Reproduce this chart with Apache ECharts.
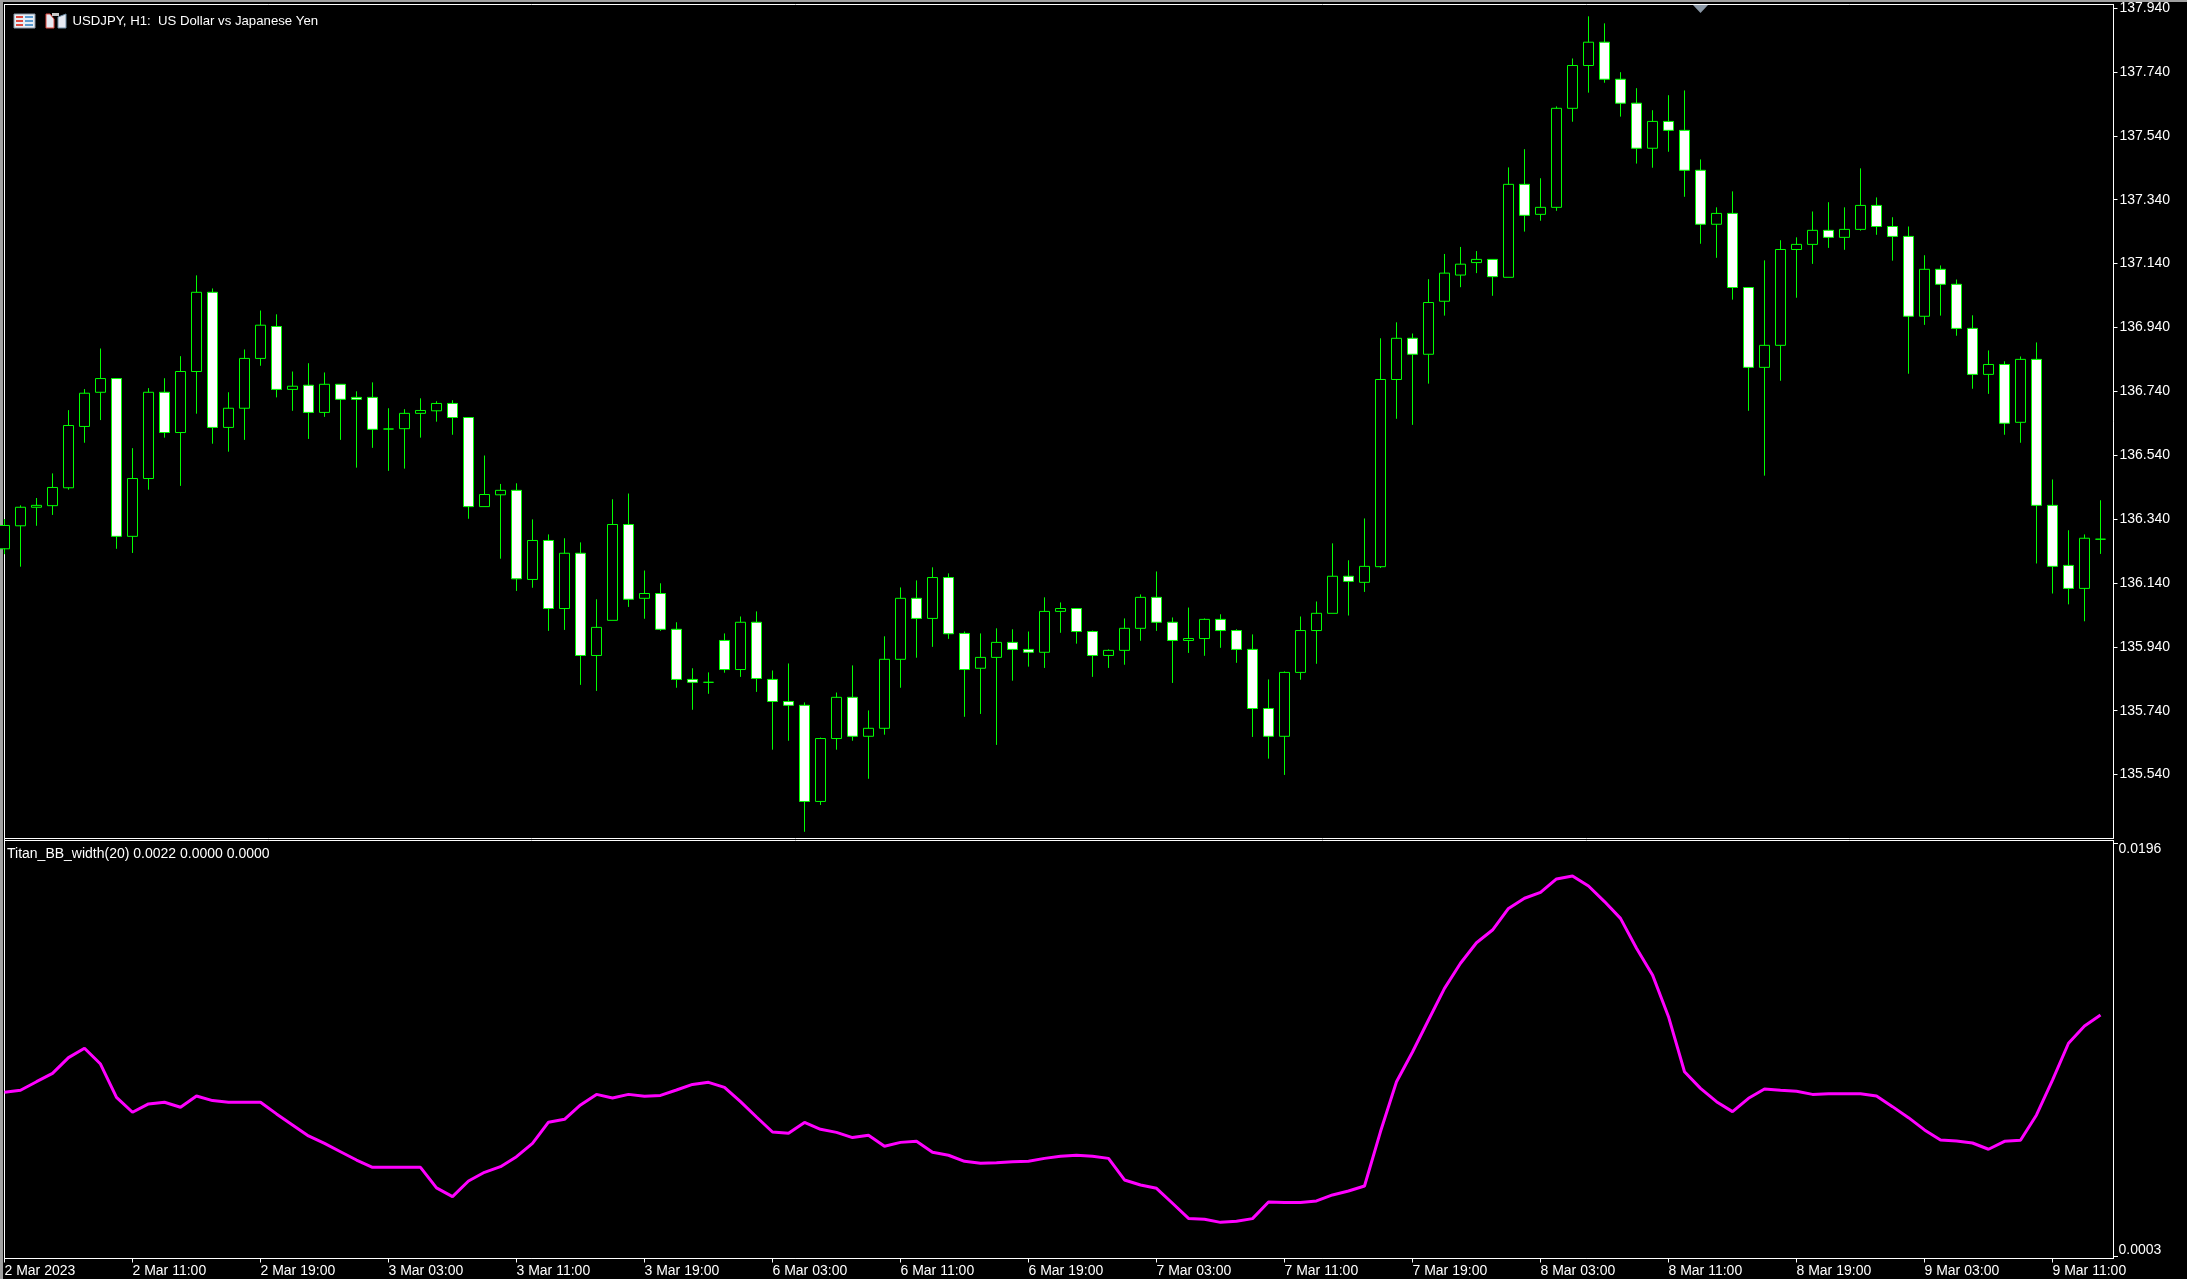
<!DOCTYPE html>
<html>
<head>
<meta charset="utf-8">
<style>
    html, body { margin: 0; padding: 0; background: #000; }
    #main { width: 2187px; height: 1279px; }
</style>
<script src="https://cdn.jsdelivr.net/npm/echarts@6/dist/echarts.min.js"></script>
</head>
<body>
<div id="main"></div>
<script>
// USDJPY H1 bars
var opens = [
    136.247,136.319,136.377,136.382,136.438,136.630,136.737,136.780,136.286,136.467,136.737,136.611,
    136.802,137.050,136.627,136.687,136.843,136.943,136.746,136.759,136.674,136.762,136.721,136.721,
    136.622,136.623,136.671,136.679,136.702,136.658,136.379,136.416,136.430,136.151,136.273,136.060,
    136.233,135.913,136.023,136.323,136.092,136.107,135.995,135.838,135.829,135.960,135.869,136.017,
    135.838,135.769,135.757,135.456,135.653,135.782,135.660,135.685,135.901,136.092,136.029,136.157,
    135.982,135.873,135.907,135.954,135.932,135.923,136.051,136.060,135.988,135.913,135.929,135.998,
    136.095,136.017,135.960,135.966,136.026,135.991,135.932,135.747,135.660,135.860,135.991,136.045,
    136.161,136.142,136.191,136.777,136.906,136.856,137.022,137.104,137.143,137.153,137.097,137.388,
    137.294,137.316,137.626,137.760,137.833,137.717,137.642,137.501,137.585,137.557,137.432,137.263,
    137.297,137.065,136.815,136.884,137.184,137.200,137.244,137.222,137.247,137.322,137.256,137.225,
    136.975,137.122,137.075,136.937,136.793,136.824,136.643,136.840,136.383,136.195,136.123,136.277
];
var closes = [
    136.320,136.377,136.383,136.439,136.633,136.734,136.780,136.286,136.467,136.737,136.611,136.802,
    137.050,136.627,136.687,136.843,136.947,136.746,136.756,136.674,136.762,136.715,136.715,136.621,
    136.622,136.671,136.680,136.702,136.658,136.379,136.417,136.430,136.153,136.273,136.060,136.233,
    135.913,136.001,136.323,136.089,136.107,135.995,135.838,135.829,135.829,135.869,136.017,135.841,
    135.769,135.757,135.456,135.653,135.782,135.660,135.685,135.901,136.092,136.029,136.157,135.981,
    135.869,135.907,135.954,135.932,135.923,136.051,136.060,135.988,135.913,135.929,135.998,136.095,
    136.017,135.960,135.966,136.026,135.991,135.932,135.747,135.660,135.860,135.991,136.045,136.161,
    136.145,136.192,136.777,136.906,136.856,137.018,137.110,137.138,137.153,137.099,137.388,137.291,
    137.316,137.626,137.760,137.833,137.717,137.642,137.501,137.585,137.557,137.432,137.263,137.297,
    137.065,136.815,136.884,137.184,137.200,137.244,137.222,137.247,137.322,137.256,137.225,136.975,
    137.122,137.075,136.937,136.793,136.824,136.640,136.840,136.383,136.192,136.123,136.280,136.277
];
var lows = [
    136.230,136.191,136.319,136.353,136.432,136.579,136.650,136.247,136.234,136.432,136.595,136.444,
    136.670,136.576,136.551,136.588,136.820,136.721,136.679,136.591,136.660,136.588,136.501,136.563,
    136.491,136.498,136.595,136.645,136.604,136.341,136.379,136.216,136.115,136.125,135.990,135.993,
    135.821,135.802,136.023,136.065,136.028,135.990,135.812,135.743,135.793,135.859,135.846,135.799,
    135.618,135.646,135.361,135.445,135.618,135.646,135.527,135.665,135.812,135.906,135.940,135.965,
    135.721,135.730,135.633,135.834,135.878,135.874,135.984,135.950,135.846,135.874,135.884,135.959,
    135.990,135.827,135.921,135.912,135.937,135.890,135.658,135.590,135.539,135.837,135.887,136.045,
    136.038,136.112,136.187,136.654,136.635,136.764,136.977,137.066,137.110,137.039,137.097,137.240,
    137.274,137.305,137.584,137.675,137.706,137.600,137.453,137.440,137.490,137.349,137.202,137.158,
    137.027,136.679,136.476,136.773,137.033,137.139,137.189,137.183,137.243,137.230,137.149,136.795,
    136.948,136.977,136.914,136.748,136.732,136.604,136.579,136.201,136.107,136.073,136.020,136.231
];
var highs = [
    136.340,136.383,136.406,136.483,136.681,136.747,136.874,136.781,136.562,136.750,136.781,136.850,
    137.103,137.062,136.737,136.871,136.993,136.981,136.802,136.828,136.799,136.762,136.740,136.768,
    136.687,136.684,136.718,136.709,136.712,136.658,136.539,136.450,136.452,136.339,136.292,136.280,
    136.267,136.089,136.402,136.420,136.179,136.139,136.017,135.873,135.860,135.982,136.035,136.051,
    135.866,135.888,135.766,135.656,135.797,135.882,135.741,135.973,136.126,136.148,136.189,136.170,
    135.988,135.982,135.998,135.995,135.988,136.095,136.079,136.060,135.991,135.932,136.029,136.104,
    136.176,136.032,136.063,136.029,136.042,135.995,135.979,135.838,135.863,136.035,136.082,136.264,
    136.211,136.342,136.906,136.956,136.921,137.091,137.170,137.192,137.179,137.153,137.441,137.498,
    137.407,137.632,137.782,137.914,137.892,137.739,137.689,137.620,137.667,137.682,137.466,137.316,
    137.366,137.065,137.150,137.213,137.222,137.303,137.332,137.316,137.438,137.347,137.285,137.256,
    137.166,137.134,137.090,136.978,136.868,136.834,136.849,136.893,136.464,136.305,136.292,136.399
];
// Titan_BB_width(20)
var bbWidth = [
    0.00789,0.00799,0.00840,0.00880,0.00956,0.01001,0.00925,0.00765,0.00693,0.00733,0.00741,0.00717,
    0.00771,0.00749,0.00741,0.00741,0.00741,0.00685,0.00632,0.00579,0.00543,0.00503,0.00463,0.00428,
    0.00428,0.00428,0.00428,0.00329,0.00287,0.00362,0.00404,0.00431,0.00479,0.00543,0.00645,0.00659,
    0.00728,0.00779,0.00762,0.00779,0.00770,0.00774,0.00800,0.00827,0.00837,0.00813,0.00744,0.00670,
    0.00598,0.00592,0.00644,0.00611,0.00596,0.00571,0.00582,0.00529,0.00548,0.00553,0.00500,0.00486,
    0.00457,0.00447,0.00450,0.00455,0.00457,0.00471,0.00481,0.00486,0.00481,0.00471,0.00367,0.00343,
    0.00327,0.00255,0.00182,0.00178,0.00163,0.00168,0.00181,0.00261,0.00259,0.00259,0.00266,0.00295,
    0.00314,0.00338,0.00600,0.00840,0.00983,0.01137,0.01289,0.01410,0.01509,0.01570,0.01674,0.01723,
    0.01751,0.01816,0.01830,0.01782,0.01707,0.01626,0.01482,0.01354,0.01153,0.00888,0.00808,0.00744,
    0.00696,0.00760,0.00805,0.00799,0.00794,0.00779,0.00782,0.00782,0.00782,0.00771,0.00720,0.00667,
    0.00608,0.00559,0.00555,0.00545,0.00515,0.00553,0.00558,0.00680,0.00848,0.01025,0.01108,0.01161
];
var timeLabels = ['2 Mar 2023','2 Mar 11:00','2 Mar 19:00','3 Mar 03:00','3 Mar 11:00','3 Mar 19:00',
    '6 Mar 03:00','6 Mar 11:00','6 Mar 19:00','7 Mar 03:00','7 Mar 11:00','7 Mar 19:00',
    '8 Mar 03:00','8 Mar 11:00','8 Mar 19:00','9 Mar 03:00','9 Mar 11:00'];
var bbTicks = [0.0003,0.0196];

var FONT = '"Liberation Sans", Arial, sans-serif';
var candles = opens.map(function (o, i) {
    return [i, o, closes[i], lows[i], highs[i]];
});
var bbLine = bbWidth.map(function (v, i) {
    return [i, v];
});

var axisText = { color: '#fff', fontFamily: FONT, fontSize: 14 };

var chart = echarts.init(document.getElementById('main'), null, { renderer: 'canvas' });
chart.setOption({
    animation: false,
    backgroundColor: '#000',
    title: [
        { text: 'USDJPY, H1:  US Dollar vs Japanese Yen', left: 72.5, top: 15, padding: 0,
          textStyle: { color: '#fff', fontFamily: FONT, fontSize: 13.2, fontWeight: 'normal' } },
        { text: 'Titan_BB_width(20) 0.0022 0.0000 0.0000', left: 7, top: 847, padding: 0,
          textStyle: { color: '#fff', fontFamily: FONT, fontSize: 14, fontWeight: 'normal' } }
    ],
    grid: [
        { left: 4.5, right: 73.5, top: 4.5, height: 834, show: true, borderColor: '#fff', borderWidth: 1, backgroundColor: '#000' },
        { left: 4.5, right: 73.5, top: 840.5, height: 418, show: true, borderColor: '#fff', borderWidth: 1, backgroundColor: '#000' }
    ],
    xAxis: [
        { type: 'value', gridIndex: 0, min: 0, max: 131.8125, interval: 8,
          axisLine: { show: false, onZero: false }, axisTick: { show: false }, axisLabel: { show: false }, splitLine: { show: false } },
        { type: 'value', gridIndex: 1, min: 0, max: 131.8125, interval: 8,
          axisLine: { show: true, onZero: false, lineStyle: { color: '#fff' } },
          axisTick: { show: true, length: 4, lineStyle: { color: '#fff' } },
          splitLine: { show: false },
          axisLabel: Object.assign({}, axisText, {
              align: 'left', margin: 6, showMaxLabel: false,
              formatter: function (v) { return timeLabels[v / 8] || ''; }
          }) }
    ],
    yAxis: [
        { type: 'value', gridIndex: 0, position: 'right', min: 135.34, max: 137.951, interval: 0.2,
          axisLine: { show: true, onZero: false, lineStyle: { color: '#fff' } },
          axisTick: { show: true, length: 4, lineStyle: { color: '#fff' } },
          splitLine: { show: false },
          axisLabel: Object.assign({}, axisText, {
              margin: 6, showMinLabel: false, showMaxLabel: false, padding: [2, 0, 0, 0],
              formatter: function (v) { return v.toFixed(3); }
          }) },
        { type: 'value', gridIndex: 1, position: 'right', min: -0.000109, max: 0.020009,
          axisLine: { show: true, onZero: false, lineStyle: { color: '#fff' } },
          axisTick: { show: false },
          splitLine: { show: false },
          axisLabel: Object.assign({}, axisText, {
              margin: 5, customValues: bbTicks,
              formatter: function (v) { return v.toFixed(4); }
          }) }
    ],
    series: [
        {
            name: 'USDJPY',
            type: 'candlestick',
            xAxisIndex: 0,
            yAxisIndex: 0,
            barWidth: 10,
            clip: true,
            encode: { x: 0, y: [1, 2, 3, 4] },
            itemStyle: {
                color: '#000',
                color0: '#fff',
                borderColor: '#00ff00',
                borderColor0: '#00ff00',
                borderColorDoji: '#00ff00',
                borderWidth: 1
            },
            data: candles
        },
        {
            name: 'Titan_BB_width(20)',
            type: 'line',
            xAxisIndex: 1,
            yAxisIndex: 1,
            showSymbol: false,
            smooth: false,
            lineStyle: { color: '#ff00ff', width: 3 },
            data: bbLine
        }
    ],
    graphic: {
        z: 100,
        elements: [
            // window edge, also hides the left half of the first bar
            { type: 'rect', shape: { x: 0, y: 0, width: 4, height: 1279 }, style: { fill: '#000' }, silent: true },
            { type: 'rect', shape: { x: 4, y: 4, width: 1, height: 1255 }, style: { fill: '#fff' }, silent: true },
            { type: 'rect', shape: { x: 0, y: 0, width: 2187, height: 2 }, style: { fill: '#a0a0a0' }, silent: true },
            { type: 'rect', shape: { x: 0, y: 0, width: 3, height: 1279 }, style: { fill: '#a0a0a0' }, silent: true },
            // small ticks of the indicator scale
            { type: 'rect', shape: { x: 2114, y: 843, width: 4, height: 1 }, style: { fill: '#fff' }, silent: true },
            { type: 'rect', shape: { x: 2114, y: 1256, width: 4, height: 1 }, style: { fill: '#fff' }, silent: true },
            // shift marker at top
            { type: 'polygon', shape: { points: [[1693, 5], [1708, 5], [1700.5, 13]] }, style: { fill: '#8a97a5' }, silent: true },
            // terminal icons next to the symbol name
            { type: 'rect', shape: { x: 14, y: 14, width: 21, height: 14 }, style: { fill: '#e8eef5', stroke: '#8a97a5' }, silent: true },
            { type: 'rect', shape: { x: 16, y: 16, width: 7, height: 2 }, style: { fill: '#e0483e' }, silent: true },
            { type: 'rect', shape: { x: 16, y: 20, width: 7, height: 2 }, style: { fill: '#e0483e' }, silent: true },
            { type: 'rect', shape: { x: 16, y: 24, width: 7, height: 2 }, style: { fill: '#e0483e' }, silent: true },
            { type: 'rect', shape: { x: 25, y: 16, width: 8, height: 2 }, style: { fill: '#5b9bd0' }, silent: true },
            { type: 'rect', shape: { x: 25, y: 20, width: 8, height: 2 }, style: { fill: '#5b9bd0' }, silent: true },
            { type: 'rect', shape: { x: 25, y: 24, width: 8, height: 2 }, style: { fill: '#5b9bd0' }, silent: true },
            { type: 'polygon', shape: { points: [[46, 14], [50, 14], [54, 19], [54, 28], [46, 28]] }, style: { fill: '#e6e9f2', stroke: '#e0483e' }, silent: true },
            { type: 'polygon', shape: { points: [[58, 17], [66, 14], [66, 28], [58, 28]] }, style: { fill: '#e6e9f2', stroke: '#6f8fa8' }, silent: true },
            { type: 'rect', shape: { x: 52, y: 13, width: 7, height: 3 }, style: { fill: '#c8c8c8' }, silent: true }
        ]
    }
});
</script>
</body>
</html>
